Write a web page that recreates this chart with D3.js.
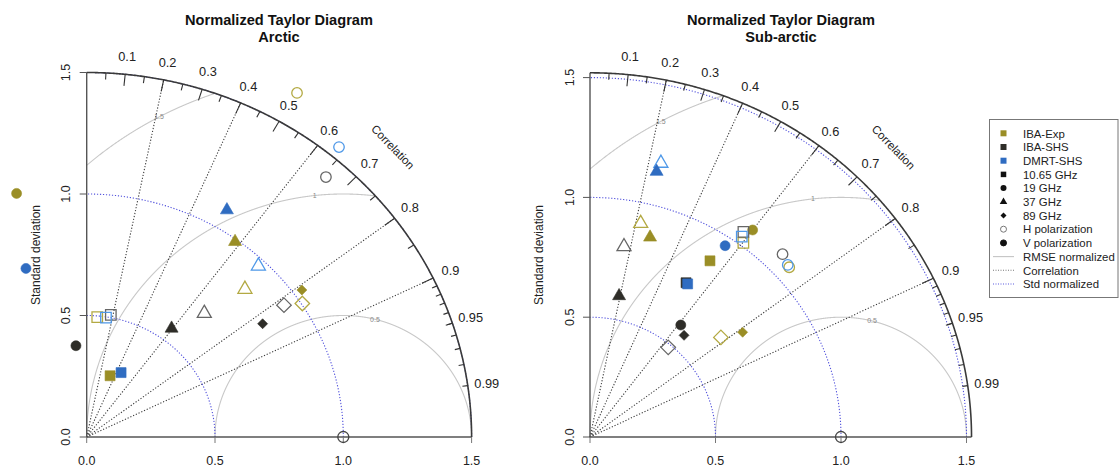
<!DOCTYPE html>
<html><head><meta charset="utf-8">
<script src="https://cdn.jsdelivr.net/npm/d3@7"></script>
<style>
body{margin:0;background:#fff}
svg{display:block;font-family:"Liberation Sans",Arial,Helvetica,sans-serif}
</style>
</head><body>
<svg id="c" width="1119" height="467"></svg>
<script>
// ---------------- data ----------------
const models = ["IBA-Exp", "IBA-SHS", "DMRT-SHS"];
const freqs = ["10.65 GHz", "19 GHz", "37 GHz", "89 GHz"];
const pols = ["H polarization", "V polarization"];
const lineLegend = ["RMSE normalized", "Correlation", "Std normalized"];
const sdTicks = [0, 0.5, 1.0, 1.5];
const corLabels = [0.1, 0.2, 0.3, 0.4, 0.5, 0.6, 0.7, 0.8, 0.9, 0.95, 0.99];
const corLines = [0.2, 0.4, 0.6, 0.8, 0.9];
const rmseLevels = [0.5, 1, 1.5];
const stdLevels = [0.5, 1, 1.5];
const titles = ["Arctic", "Sub-arctic"];
// [model, frequency, polarization, normalized std, correlation]
const arcticPoints = [
  ["IBA-Exp", "10.65 GHz", "H", 0.495, 0.083],
  ["IBA-Exp", "10.65 GHz", "V", 0.268, 0.340],
  ["IBA-Exp", "19 GHz", "H", 1.636, 0.501],
  ["IBA-Exp", "19 GHz", "V", 1.039, -0.263],
  ["IBA-Exp", "37 GHz", "H", 0.866, 0.712],
  ["IBA-Exp", "37 GHz", "V", 0.990, 0.584],
  ["IBA-Exp", "89 GHz", "H", 1.004, 0.837],
  ["IBA-Exp", "89 GHz", "V", 1.034, 0.811],
  ["IBA-SHS", "10.65 GHz", "H", 0.511, 0.184],
  ["IBA-SHS", "19 GHz", "H", 1.419, 0.657],
  ["IBA-SHS", "19 GHz", "V", 0.378, -0.111],
  ["IBA-SHS", "37 GHz", "H", 0.685, 0.669],
  ["IBA-SHS", "37 GHz", "V", 0.556, 0.595],
  ["IBA-SHS", "89 GHz", "H", 0.941, 0.817],
  ["IBA-SHS", "89 GHz", "V", 0.829, 0.827],
  ["DMRT-SHS", "10.65 GHz", "H", 0.497, 0.151],
  ["DMRT-SHS", "10.65 GHz", "V", 0.297, 0.451],
  ["DMRT-SHS", "19 GHz", "H", 1.546, 0.636],
  ["DMRT-SHS", "19 GHz", "V", 0.733, -0.323],
  ["DMRT-SHS", "37 GHz", "H", 0.971, 0.689],
  ["DMRT-SHS", "37 GHz", "V", 1.082, 0.505]
];
const subarcticPoints = [
  ["IBA-Exp", "10.65 GHz", "H", 1.015, 0.602],
  ["IBA-Exp", "10.65 GHz", "V", 0.877, 0.545],
  ["IBA-Exp", "19 GHz", "H", 1.064, 0.746],
  ["IBA-Exp", "19 GHz", "V", 1.080, 0.600],
  ["IBA-Exp", "37 GHz", "H", 0.914, 0.221],
  ["IBA-Exp", "37 GHz", "V", 0.867, 0.276],
  ["IBA-Exp", "89 GHz", "H", 0.667, 0.782],
  ["IBA-Exp", "89 GHz", "V", 0.749, 0.812],
  ["IBA-SHS", "10.65 GHz", "H", 1.052, 0.581],
  ["IBA-SHS", "10.65 GHz", "V", 0.749, 0.511],
  ["IBA-SHS", "19 GHz", "H", 1.082, 0.709],
  ["IBA-SHS", "19 GHz", "V", 0.591, 0.612],
  ["IBA-SHS", "37 GHz", "H", 0.806, 0.168],
  ["IBA-SHS", "37 GHz", "V", 0.600, 0.193],
  ["IBA-SHS", "89 GHz", "H", 0.487, 0.640],
  ["IBA-SHS", "89 GHz", "V", 0.566, 0.662],
  ["DMRT-SHS", "10.65 GHz", "H", 1.032, 0.586],
  ["DMRT-SHS", "10.65 GHz", "V", 0.748, 0.520],
  ["DMRT-SHS", "19 GHz", "H", 1.066, 0.739],
  ["DMRT-SHS", "19 GHz", "V", 0.963, 0.559],
  ["DMRT-SHS", "37 GHz", "H", 1.177, 0.240],
  ["DMRT-SHS", "37 GHz", "V", 1.139, 0.233]
];

// ---------------- styles ----------------
const fillColor = {"IBA-Exp": "#9A8E26", "IBA-SHS": "#2E2D28", "DMRT-SHS": "#2F6CC1"};
const openColor = {"IBA-Exp": "#B3A942", "IBA-SHS": "#666666", "DMRT-SHS": "#4E98E8"};
const symSquare = {draw(c, s) { c.rect(-s / 2, -s / 2, s, s); }};
const symCircle = {draw(c, s) { c.moveTo(s / 2, 0); c.arc(0, 0, s / 2, 0, 2 * Math.PI); c.closePath(); }};
const symTriangle = {draw(c, s) { const h = s * Math.sqrt(3) / 2; c.moveTo(0, -2 * h / 3); c.lineTo(s / 2, h / 3); c.lineTo(-s / 2, h / 3); c.closePath(); }};
const symDiamond = {draw(c, s) { c.moveTo(0, -s / 2); c.lineTo(s / 2, 0); c.lineTo(0, s / 2); c.lineTo(-s / 2, 0); c.closePath(); }};
const shapeOf = {"10.65 GHz": symSquare, "19 GHz": symCircle, "37 GHz": symTriangle, "89 GHz": symDiamond};
const sizeFilled = {"10.65 GHz": 10, "19 GHz": 10, "37 GHz": 13, "89 GHz": 10};
const sizeOpen = {"10.65 GHz": 10.5, "19 GHz": 10.5, "37 GHz": 14, "89 GHz": 14.5};
const rmseLabelAngle = [75.7, 96.4, 118.6];

const svg = d3.select("#c");
svg.append("rect").attr("width", 1119).attr("height", 467).attr("fill", "#fff");

function drawPanel(cfg, pts, title2) {
  const x = d3.scaleLinear().domain([0, 1.5]).range(cfg.xr);
  const y = d3.scaleLinear().domain([0, 1.5]).range(cfg.yr);
  const M = cfg.maxray;
  const g = svg.append("g");
  const line = d3.line().x(d => x(d[0])).y(d => y(d[1]));
  const arcPts = r => d3.range(0, 401).map(k => { const t = Math.PI / 2 * k / 400; return [r * Math.cos(t), r * Math.sin(t)]; });

  // RMSE arcs centred on reference
  rmseLevels.forEach((R, i) => {
    const arr = [];
    for (let k = 0; k <= 3000; k++) {
      const p = Math.PI * k / 3000;
      const px = 1 + R * Math.cos(p), py = R * Math.sin(p);
      if (px >= 0 && Math.hypot(px, py) <= M) arr.push([px, py]);
    }
    g.append("path").attr("d", line(arr)).attr("fill", "none")
      .attr("stroke", "#c8c8c8").attr("stroke-width", 1.1);
    const a = rmseLabelAngle[i] * Math.PI / 180;
    g.append("text").attr("x", x(1 + R * Math.cos(a))).attr("y", y(R * Math.sin(a)))
      .attr("text-anchor", "middle").attr("dominant-baseline", "central")
      .attr("font-size", 7).attr("fill", "#888").text(String(R));
  });

  // correlation dotted lines
  corLines.forEach(c => {
    g.append("path").attr("d", line([[0, 0], [M * c, M * Math.sqrt(1 - c * c)]]))
      .attr("stroke", "#3c3c3c").attr("stroke-width", 1.1).attr("stroke-dasharray", "1.2,1.8").attr("fill", "none");
  });

  // std normalized dotted arcs
  stdLevels.forEach(r => {
    g.append("path").attr("d", line(arcPts(r))).attr("fill", "none")
      .attr("stroke", "#5050dc").attr("stroke-width", 1.1).attr("stroke-dasharray", "1.2,1.8");
  });

  // axes
  g.append("path").attr("d", line([[0, M], [0, 0], [M, 0]])).attr("fill", "none")
    .attr("stroke", "#555").attr("stroke-width", 1.4);
  // outer arc
  g.append("path").attr("d", line(arcPts(M))).attr("fill", "none")
    .attr("stroke", "#3a3a3a").attr("stroke-width", 1.6);

  // y ticks and labels
  sdTicks.forEach(t => {
    g.append("line").attr("x1", x(0) - 7).attr("x2", x(0)).attr("y1", y(t)).attr("y2", y(t))
      .attr("stroke", "#555").attr("stroke-width", 1);
    g.append("text").attr("transform", `translate(${cfg.yTickX},${y(t)}) rotate(-90)`)
      .attr("text-anchor", "middle").attr("font-size", 12.5).attr("fill", "#222")
      .text(d3.format(".1f")(t));
    g.append("line").attr("x1", x(t)).attr("x2", x(t)).attr("y1", y(0)).attr("y2", y(0) + 6)
      .attr("stroke", "#777").attr("stroke-width", 1);
    g.append("text").attr("x", x(t)).attr("y", 465)
      .attr("text-anchor", "middle").attr("font-size", 12.5).attr("fill", "#222")
      .text(d3.format(".1f")(t));
  });

  // correlation ticks on outer arc
  const tickSet = [
    [d3.range(1, 10).map(v => v / 10), 0.968],
    [d3.range(0, 10).map(v => v / 10 + 0.05), 0.982],
    [d3.range(1, 10).map(v => 0.9 + v / 100), 0.986]
  ];
  tickSet.forEach(([vals, f]) => vals.forEach(c => {
    const s = Math.sqrt(1 - c * c);
    g.append("path").attr("d", line([[M * c, M * s], [f * M * c, f * M * s]]))
      .attr("stroke", "#333").attr("stroke-width", 1.1);
  }));
  corLabels.forEach(c => {
    const s = Math.sqrt(1 - c * c);
    g.append("text").attr("x", x(1.05 * M * c)).attr("y", y(1.05 * M * s))
      .attr("text-anchor", "middle").attr("dominant-baseline", "central")
      .attr("font-size", 12.8).attr("fill", "#222").text(String(c));
  });
  const cr = 1.125 * M * Math.SQRT1_2;
  g.append("text").attr("transform", `translate(${x(cr)},${y(cr)}) rotate(46)`)
    .attr("text-anchor", "middle").attr("dominant-baseline", "central")
    .attr("font-size", 11.5).attr("fill", "#222").text("Correlation");

  // y label
  g.append("text").attr("transform", `translate(${cfg.ylabX},255) rotate(-90)`)
    .attr("text-anchor", "middle").attr("font-size", 12).attr("fill", "#222").text("Standard deviation");

  // titles
  g.append("text").attr("x", cfg.titleX).attr("y", 25).attr("text-anchor", "middle")
    .attr("font-weight", "bold").attr("font-size", 14.6).attr("fill", "#111").text("Normalized Taylor Diagram");
  g.append("text").attr("x", cfg.titleX).attr("y", 42).attr("text-anchor", "middle")
    .attr("font-weight", "bold").attr("font-size", 14.6).attr("fill", "#111").text(title2);

  // reference point
  g.append("path").attr("transform", `translate(${x(1)},${y(0)})`)
    .attr("d", d3.symbol().type(symCircle).size(11)())
    .attr("fill", "none").attr("stroke", "#444").attr("stroke-width", 1.3);

  // data points
  pts.forEach(p => {
    const [m, f, pol, sd, c] = p;
    const px = sd * c, py = sd * Math.sqrt(1 - c * c);
    const filled = pol === "V";
    g.append("path").attr("transform", `translate(${x(px)},${y(py)})`)
      .attr("d", d3.symbol().type(shapeOf[f]).size(filled ? sizeFilled[f] : sizeOpen[f])())
      .attr("fill", filled ? fillColor[m] : "none")
      .attr("stroke", filled ? fillColor[m] : openColor[m])
      .attr("stroke-width", filled ? 0.6 : 1.3);
  });
}

drawPanel({xr: [86.7, 471.6], yr: [437, 72.5], maxray: 1.5, titleX: 279, ylabX: 39.5, yTickX: 70}, arcticPoints, titles[0]);
drawPanel({xr: [590, 966.5], yr: [437, 77.6], maxray: 1.52, titleX: 781, ylabX: 542.5, yTickX: 574}, subarcticPoints, titles[1]);

// ---------------- legend ----------------
const lg = svg.append("g");
lg.append("rect").attr("x", 989.5).attr("y", 119.5).attr("width", 128.5).attr("height", 178)
  .attr("fill", "#fff").attr("stroke", "#777").attr("stroke-width", 1);
const items = [
  ...models.map(m => ({label: m, kind: "model", m})),
  ...freqs.map(f => ({label: f, kind: "freq", f})),
  ...pols.map((p, i) => ({label: p, kind: "pol", i})),
  ...lineLegend.map((l, i) => ({label: l, kind: "line", i}))
];
const ly = d3.scaleLinear().domain([0, items.length - 1]).range([133.3, 284]);
items.forEach((it, i) => {
  const cy = ly(i), cx = 1003.5;
  if (it.kind === "model") {
    lg.append("rect").attr("x", cx - 3).attr("y", cy - 3).attr("width", 6).attr("height", 6).attr("fill", fillColor[it.m]);
  } else if (it.kind === "freq") {
    const sz = {"10.65 GHz": 5.5, "19 GHz": 6, "37 GHz": 7.5, "89 GHz": 6}[it.f];
    lg.append("path").attr("transform", `translate(${cx},${cy})`)
      .attr("d", d3.symbol().type(shapeOf[it.f]).size(sz)()).attr("fill", "#111");
  } else if (it.kind === "pol") {
    lg.append("path").attr("transform", `translate(${cx},${cy})`)
      .attr("d", d3.symbol().type(symCircle).size(6)())
      .attr("fill", it.i === 0 ? "none" : "#111").attr("stroke", it.i === 0 ? "#777" : "#111").attr("stroke-width", 1);
  } else {
    const st = [["#c4c4c4", null], ["#777", "1,1.5"], ["#5a5ae0", "1,1.5"]][it.i];
    const ln = lg.append("line").attr("x1", 993).attr("x2", 1014).attr("y1", cy).attr("y2", cy)
      .attr("stroke", st[0]).attr("stroke-width", 1.1);
    if (st[1]) ln.attr("stroke-dasharray", st[1]);
  }
  lg.append("text").attr("x", 1023).attr("y", cy + 4.2).attr("font-size", 11.4).attr("fill", "#222").text(it.label);
});
</script>
</body></html>
